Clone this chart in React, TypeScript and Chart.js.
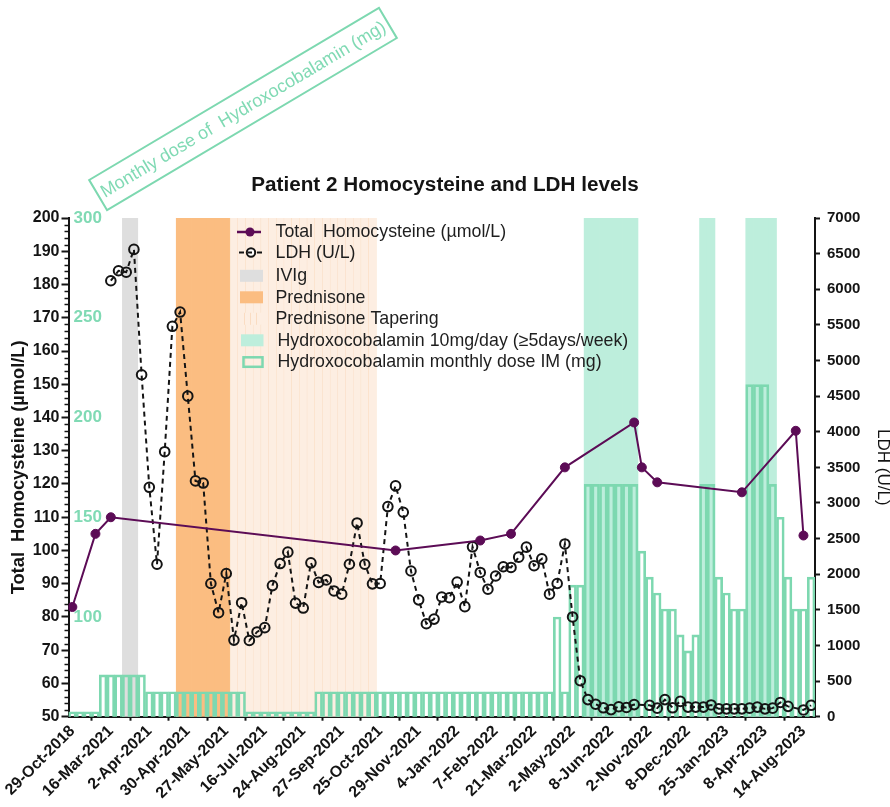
import React, { useEffect, useRef } from 'react';
import { Chart, registerables } from 'chart.js';

Chart.register(...registerables);

const FONT = "'Liberation Sans', Arial, Helvetica, sans-serif";
Chart.defaults.font.family = FONT;

// Visit dates shown on the x axis (every fifth visit is labelled)
const xTickLabels = [
  '29-Oct-2018', '16-Mar-2021', '2-Apr-2021', '30-Apr-2021', '27-May-2021',
  '16-Jul-2021', '24-Aug-2021', '27-Sep-2021', '25-Oct-2021', '29-Nov-2021',
  '4-Jan-2022', '7-Feb-2022', '21-Mar-2022', '2-May-2022', '8-Jun-2022',
  '2-Nov-2022', '8-Dec-2022', '25-Jan-2023', '8-Apr-2023', '14-Aug-2023',
];
const LABEL_EVERY = 5;
const LAST_VISIT = 96;

// Total homocysteine (µmol/L), measured at a subset of visits
const homocysteineVisits = [0, 3, 5, 42, 53, 57, 64, 73, 74, 76, 87, 94, 95];
const homocysteineValues = [83, 105, 110, 100, 103, 105, 125, 138.5, 125, 120.5, 117.5, 136, 104.5];

// LDH (U/L) from visit 5 onwards; null = not measured
const LDH_FIRST_VISIT = 5;
const ldhValues = [
  6120, 6260, 6240, 6560, 4800, 3220, 2140, 3720, 5480, 5680,
  4500, 3310, 3280, 1870, 1460, 2010, 1075, 1600, 1070, 1190,
  1250, 1840, 2150, 2310, 1595, 1525, 2160, 1885, 1920, 1765,
  1720, 2140, 2720, 2140, 1865, 1870, 2950, 3240, 2870, 2045,
  1640, 1305, 1370, 1680, 1670, 1890, 1545, 2385, 2025, 1790,
  1975, 2105, 2095, 2240, 2380, 2120, 2215, 1720, 1870, 2425,
  1400, 505, 240, 175, 125, 100, 140, 130, 170, null,
  160, 120, 240, 125, 215, 135, 135, 135, 165, 110,
  110, 110, 110, 120, 135, 110, 120, 200, 145, null,
  95, 160,
];

// Monthly IM hydroxocobalamin dose (mg), as runs of visits sharing one dose
const doseRunStart = [0, 4, 10, 23, 32, 63, 64, 65, 67, 74, 75, 76, 77, 79, 80, 81, 82, 84, 85, 86, 88, 91, 92, 93, 94, 96];
const doseRunEnd   = [3, 9, 22, 31, 62, 63, 64, 66, 73, 74, 75, 76, 78, 79, 80, 81, 83, 84, 85, 87, 90, 91, 92, 93, 95, 96];
const doseRunMg    = [52.5, 71, 62.5, 52.5, 62.5, 100, 62.5, 116, 166.5, 133, 120, 112, 104, 91, 83, 91, 166.5, 120, 112, 104, 216.5, 166.5, 150, 120, 104, 120];

// Treatment periods (first visit, last visit)
const ivigPeriod = [7, 8];
const prednisonePeriod = [14, 20];
const taperingPeriod = [21, 39];
const dailyB12Periods = [[67, 73], [82, 83], [88, 91]];

const INK = '#141414';
const PURPLE = '#5c0c56';
const DOSE_GREEN = '#7dd8b0';
const LABEL_GREEN = '#80dab4';
const GRAY = '#dedede';
const ORANGE = '#fbbd81';
const PEACH = '#fdeee2';
const PEACH_LINE = '#fadcc2';
const MINT = '#bdeedc';

const HCY_MAX = 200;

function periodBars(periods: number[][]) {
  const pts: { x: number; y: number }[] = [];
  periods.forEach(([a, b]) => {
    for (let i = a; i <= b; i++) pts.push({ x: i, y: HCY_MAX });
  });
  return pts;
}

function doseBars() {
  const pts: { x: number; y: number }[] = [];
  doseRunStart.forEach((s, k) => {
    for (let i = s; i <= doseRunEnd[k]; i++) pts.push({ x: i, y: doseRunMg[k] });
  });
  return pts;
}

const extrasPlugin = {
  id: 'extras',
  afterDraw(chart: any) {
    const { ctx, chartArea, scales } = chart;
    const y = scales.y;
    ctx.save();

    // minor ticks on the homocysteine axis
    ctx.strokeStyle = INK;
    ctx.lineWidth = 1.5;
    for (let v = 52; v < 200; v += 2) {
      if (v % 10 === 0) continue;
      const py = Math.round(y.getPixelForValue(v)) + 0.5;
      ctx.beginPath();
      ctx.moveTo(chartArea.left - 4, py);
      ctx.lineTo(chartArea.left, py);
      ctx.stroke();
    }

    // legend
    const rows = [232, 252.5, 275.8, 297.3, 318.8, 340.3, 361.8];
    const names = [
      'Total  Homocysteine (µmol/L)',
      'LDH (U/L)',
      'IVIg',
      'Prednisone',
      'Prednisone Tapering',
      'Hydroxocobalamin 10mg/day (≥5days/week)',
      'Hydroxocobalamin monthly dose IM (mg)',
    ];
    ctx.font = `17.8px ${FONT}`;
    ctx.textBaseline = 'middle';
    ctx.textAlign = 'left';

    // homocysteine symbol
    ctx.strokeStyle = PURPLE;
    ctx.fillStyle = PURPLE;
    ctx.lineWidth = 2.5;
    ctx.beginPath();
    ctx.moveTo(237, rows[0]);
    ctx.lineTo(261, rows[0]);
    ctx.stroke();
    ctx.beginPath();
    ctx.arc(250, rows[0], 4.5, 0, Math.PI * 2);
    ctx.fill();

    // LDH symbol
    ctx.strokeStyle = INK;
    ctx.lineWidth = 2;
    ctx.setLineDash([5, 4]);
    ctx.beginPath();
    ctx.moveTo(239, rows[1]);
    ctx.lineTo(262, rows[1]);
    ctx.stroke();
    ctx.setLineDash([]);
    ctx.beginPath();
    ctx.arc(251, rows[1], 4.2, 0, Math.PI * 2);
    ctx.fillStyle = '#fff';
    ctx.fill();
    ctx.stroke();
    ctx.beginPath();
    ctx.moveTo(248, rows[1]);
    ctx.lineTo(252, rows[1]);
    ctx.stroke();

    // boxes
    const box = (row: number, color: string) => {
      ctx.fillStyle = color;
      ctx.fillRect(240, rows[row] - 6, 23, 12);
    };
    box(2, GRAY);
    box(3, ORANGE);
    box(4, PEACH);
    ctx.strokeStyle = PEACH_LINE;
    ctx.lineWidth = 1;
    [244.5, 250.5, 256.5].forEach((lx) => {
      ctx.beginPath();
      ctx.moveTo(lx, rows[4] - 6);
      ctx.lineTo(lx, rows[4] + 6);
      ctx.stroke();
    });
    ctx.fillStyle = MINT;
    ctx.fillRect(241, rows[5] - 6, 22.5, 12);
    ctx.strokeStyle = DOSE_GREEN;
    ctx.lineWidth = 2.5;
    ctx.strokeRect(243.5, rows[6] - 4.5, 19, 9.5);

    ctx.fillStyle = '#1e1e1e';
    names.forEach((t, i) => {
      ctx.fillText(t, i >= 5 ? 277.5 : 275.5, rows[i] + 0.5);
    });

    // title of the dose axis, tilted in a box
    ctx.save();
    ctx.translate(243, 109);
    ctx.rotate((-30.7 * Math.PI) / 180);
    ctx.strokeStyle = DOSE_GREEN;
    ctx.lineWidth = 2;
    ctx.strokeRect(-168.5, -17.5, 337, 35);
    ctx.fillStyle = LABEL_GREEN;
    ctx.font = `18px ${FONT}`;
    ctx.textAlign = 'center';
    ctx.textBaseline = 'middle';
    ctx.fillText('Monthly dose of  Hydroxocobalamin (mg)', 0, 1);
    ctx.restore();

    ctx.restore();
  },
};

export default function App() {
  const ref = useRef<HTMLCanvasElement>(null);

  useEffect(() => {
    if (!ref.current) return;

    const hcyData = homocysteineVisits.map((x, i) => ({ x, y: homocysteineValues[i] }));
    const ldhData = ldhValues.map((v, i) => ({ x: LDH_FIRST_VISIT + i, y: v }));

    const shade = (label: string, data: any[], color: string, order: number, extra: any = {}) => ({
      type: 'bar' as const,
      label,
      data,
      yAxisID: 'y',
      backgroundColor: color,
      borderWidth: 0,
      barPercentage: 1,
      categoryPercentage: 1,
      grouped: false,
      order,
      ...extra,
    });

    const chart = new Chart(ref.current, {
      type: 'bar',
      data: {
        datasets: [
          {
            type: 'line',
            label: 'Total  Homocysteine (µmol/L)',
            data: hcyData,
            yAxisID: 'y',
            borderColor: PURPLE,
            backgroundColor: PURPLE,
            borderWidth: 2,
            pointRadius: 4.5,
            pointBackgroundColor: PURPLE,
            pointBorderColor: PURPLE,
            pointBorderWidth: 1,
            tension: 0,
            order: 0,
          } as any,
          {
            type: 'line',
            label: 'LDH (U/L)',
            data: ldhData,
            yAxisID: 'yLdh',
            borderColor: INK,
            borderWidth: 2,
            borderDash: [5, 4],
            pointRadius: 4.8,
            pointBorderWidth: 2,
            pointBorderColor: INK,
            pointBackgroundColor: 'rgba(0,0,0,0)',
            spanGaps: true,
            tension: 0,
            order: 1,
          } as any,
          {
            type: 'bar',
            label: 'Hydroxocobalamin monthly dose IM (mg)',
            data: doseBars(),
            yAxisID: 'yDose',
            backgroundColor: 'rgba(0,0,0,0)',
            borderColor: DOSE_GREEN,
            borderWidth: 2,
            borderSkipped: 'start',
            barPercentage: 1,
            categoryPercentage: 1,
            grouped: false,
            order: 2,
          } as any,
          shade('Hydroxocobalamin 10mg/day (≥5days/week)', periodBars(dailyB12Periods), MINT, 3),
          shade('Prednisone Tapering', periodBars([taperingPeriod]), PEACH, 4, {
            borderColor: PEACH_LINE,
            borderWidth: { left: 0.5, right: 0.5, top: 0, bottom: 0 },
          }),
          shade('Prednisone', periodBars([prednisonePeriod]), ORANGE, 5),
          shade('IVIg', periodBars([ivigPeriod]), GRAY, 6),
        ],
      },
      options: {
        responsive: false,
        animation: false,
        devicePixelRatio: 1,
        layout: { padding: 0 },
        plugins: {
          legend: { display: false },
          tooltip: { enabled: false },
          title: {
            display: true,
            text: 'Patient 2 Homocysteine and LDH levels',
            color: INK,
            font: { size: 20.7, weight: 'bold', family: FONT },
            padding: { top: 172.5, bottom: 20.7 },
          },
        },
        scales: {
          x: {
            type: 'linear',
            min: -0.5,
            max: LAST_VISIT + 0.5,
            offset: false,
            afterBuildTicks: (scale: any) => {
              scale.ticks = xTickLabels.map((_, i) => ({ value: i * LABEL_EVERY }));
            },
            afterFit: (scale: any) => {
              scale.height = 90.3;
            },
            ticks: {
              autoSkip: false,
              maxRotation: 45,
              minRotation: 45,
              padding: 1,
              color: INK,
              font: { size: 16, weight: 'bold', family: FONT },
              callback: (v: any) => xTickLabels[Math.round(Number(v) / LABEL_EVERY)] ?? '',
            },
            grid: {
              display: true,
              drawOnChartArea: false,
              drawTicks: true,
              tickLength: 4,
              tickWidth: 2,
              tickColor: INK,
            },
            border: { display: true, width: 2, color: INK },
          },
          y: {
            type: 'linear',
            position: 'left',
            min: 50,
            max: 200,
            weight: 1,
            afterFit: (scale: any) => {
              scale.width = 68.5;
            },
            ticks: {
              stepSize: 10,
              padding: 2,
              color: INK,
              font: { size: 16, weight: 'bold', family: FONT },
            },
            grid: {
              drawOnChartArea: false,
              tickLength: 7,
              tickWidth: 2,
              tickColor: INK,
            },
            border: { display: true, width: 2, color: INK },
            title: {
              display: true,
              text: 'Total  Homocysteine (µmol/L)',
              color: INK,
              font: { size: 18.3, weight: 'bold', family: FONT },
              padding: { top: 7.5, bottom: 0 },
            },
          },
          yDose: {
            type: 'linear',
            position: 'left',
            min: 50,
            max: 300,
            weight: 0,
            afterFit: (scale: any) => {
              scale.width = 0;
            },
            ticks: {
              stepSize: 50,
              mirror: true,
              padding: 5,
              color: LABEL_GREEN,
              font: { size: 17, weight: 'bold', family: FONT },
              callback: (v: any) => (Number(v) === 50 ? '' : String(v)),
            },
            grid: { display: false, drawTicks: false },
            border: { display: false },
          },
          yLdh: {
            type: 'linear',
            position: 'right',
            min: 0,
            max: 7000,
            afterFit: (scale: any) => {
              scale.width = 75;
            },
            ticks: {
              stepSize: 500,
              padding: 7,
              color: INK,
              font: { size: 15, weight: 'bold', family: FONT },
              callback: (v: any) => String(v),
            },
            grid: {
              drawOnChartArea: false,
              tickLength: 5,
              tickWidth: 2,
              tickColor: INK,
            },
            border: { display: true, width: 2, color: INK },
            title: {
              display: true,
              text: 'LDH (U/L)',
              color: INK,
              font: { size: 17, weight: 'normal', family: FONT },
              padding: { top: -2.5, bottom: 0 },
            },
          },
        },
      } as any,
      plugins: [extrasPlugin],
    });

    return () => chart.destroy();
  }, []);

  return (
    <div style={{ position: 'absolute', left: 0, top: 0, width: 890, height: 807, background: '#fff' }}>
      <canvas ref={ref} width={890} height={807} style={{ display: 'block', width: 890, height: 807 }} />
    </div>
  );
}
